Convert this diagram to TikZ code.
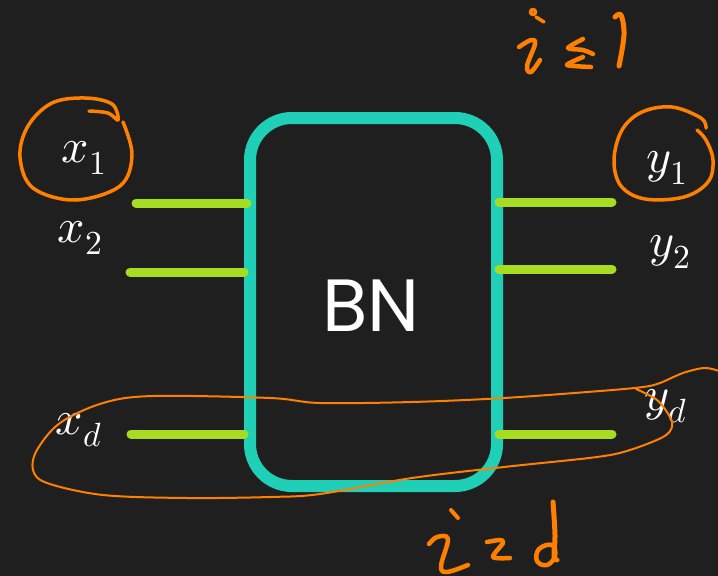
\documentclass[tikz,border=0pt]{standalone}
\usepackage{fontspec}
\usepackage{unicode-math}
\setmathfont{Latin Modern Math}
\newfontfamily\bnfont{Poppins}
\begin{document}
\begin{tikzpicture}[x=1pt,y=-1pt,
  port/.style={draw=portgreen,line width=9pt,line cap=round},
  ink/.style={draw=inkorange,line cap=round,line join=round},
  lbl/.style={text=white,font=\fontsize{48}{54}\selectfont},
]
\definecolor{bg}{HTML}{1F1F1F}
\definecolor{boxteal}{HTML}{1FCFB6}
\definecolor{portgreen}{HTML}{A6DD22}
\definecolor{inkorange}{HTML}{FF8000}
\fill[bg] (0,0) rectangle (718,576);
\useasboundingbox (0,0) rectangle (718,576);
% box
\node[draw=boxteal,line width=12pt,rounded corners=42pt,minimum width=247pt,minimum height=368pt,inner sep=0pt] (bn) at (373.5,302) {};
\node[text=white,font=\bnfont\fontsize{74}{80}\selectfont] (bnlabel) at (371,306) {BN};
% port coordinates
\coordinate (l1a) at (136,203); \coordinate (l1b) at (247,203);
\coordinate (l2a) at (130,272); \coordinate (l2b) at (244,272);
\coordinate (lda) at (131,434); \coordinate (ldb) at (244,434);
\coordinate (r1a) at (499,202); \coordinate (r1b) at (612,202);
\coordinate (r2a) at (499,269); \coordinate (r2b) at (612,269);
\coordinate (rda) at (499,434); \coordinate (rdb) at (612,434);
\draw[port] (l1a) -- (l1b);
\draw[port] (l2a) -- (l2b);
\draw[port] (lda) -- (ldb);
\draw[port] (r1a) -- (r1b);
\draw[port] (r2a) -- (r2b);
\draw[port] (rda) -- (rdb);
% labels
\node[lbl] (x1) at (84,158) {$x_1$};
\node[lbl] (x2) at (80,238) {$x_2$};
\node[lbl] (xd) at (79,430) {$x_d$};
\node[lbl] (y1) at (667,168) {$y_1$};
\node[lbl] (y2) at (670,252) {$y_2$};
\node[lbl] (yd) at (666,406) {$y_d$};
% circle around x1
\draw[ink,line width=3.5pt] plot[smooth,tension=0.6] coordinates {(89,111) (108,113) (118,120) (112,104) (85,98) (52,103) (28,126) (20,157) (33,188) (75,200) (120,186) (132,155) (123,122)};
% circle around y1
\draw[ink,line width=3.5pt] plot[smooth,tension=0.6] coordinates {(706,128) (701,118) (672,107) (642,112) (622,130) (614,160) (621,186) (645,199) (684,197) (708,182) (713,160) (706,140) (697,130)};
% big loop around x_d ... y_d
\draw[ink,line width=2pt] plot[smooth,tension=0.55] coordinates {(722,372) (705,368) (683,373) (660,383) (643,387) (600,391) (504,398) (412,402) (320,403) (270,398) (153,396) (103,403) (60,423) (37,450) (33,470) (47,483) (103,495) (187,498) (270,497) (320,494) (412,478) (504,467) (597,457) (630,450) (663,437) (672,427) (670,417) (657,400) (636,389)};
% handwritten i <= 1
\draw[ink,line width=4.5pt] plot[smooth,tension=0.6] coordinates {(519,47) (531,40) (535,44) (527,66) (531,72) (540,60)};
\draw[ink,line width=3.5pt] (533,12) circle (2.5pt);
\draw[ink,line width=3.5pt] (536,17) -- (544,22);
\draw[ink,line width=4.5pt] plot[smooth,tension=0.5] coordinates {(583,39) (568,48) (583,50) (593,54)};
\draw[ink,line width=4.5pt] plot[smooth,tension=0.4] coordinates {(583,57) (567,65) (591,67)};
\draw[ink,line width=5pt] plot[smooth,tension=0.6] coordinates {(615,17) (621,15) (624,35) (619,66)};
% handwritten i = d
\draw[ink,line width=4.5pt] plot[smooth,tension=0.6] coordinates {(429,544) (437,537) (448,539) (441,566) (447,572) (468,565)};
\draw[ink,line width=4pt] (451,510) -- (458,518);
\draw[ink,line width=4.5pt] plot[smooth,tension=0.5] coordinates {(487,542) (500,540) (503,543) (493,557) (510,558)};
\draw[ink,line width=4.5pt] plot[smooth cycle,tension=0.7] coordinates {(552,545) (539,549) (537,561) (547,565) (555,556)};
\draw[ink,line width=5pt] plot[smooth,tension=0.6] coordinates {(553,502) (555,535) (554,556) (557,560)};
\end{tikzpicture}
\end{document}
